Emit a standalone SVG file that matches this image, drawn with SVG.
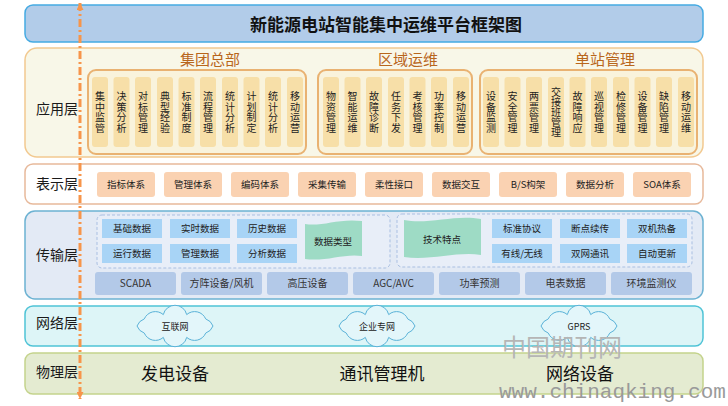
<svg xmlns="http://www.w3.org/2000/svg" width="728" height="406" viewBox="0 0 728 406">
<style>
text{font-family:"Noto Sans CJK SC","Liberation Sans",sans-serif;}
.lay{font-size:14px;text-anchor:middle;fill:#1a1a1a;}
.hd{font-size:15px;text-anchor:middle;fill:#b8661c;}
.grp{fill:#f9f3dc;stroke:#e9b272;stroke-width:2;}
.item{fill:#f7dfa8;}
.it{font-size:10px;text-anchor:middle;fill:#222;}
.pbox{fill:#fad2b2;}
.pt{font-size:9.5px;text-anchor:middle;fill:#222;}
.dgrp{fill:#e8eef8;stroke:#a9bfe2;stroke-width:1;stroke-dasharray:3 2;}
.dbox{fill:#a8d4f6;}
.dt{font-size:9.5px;text-anchor:middle;fill:#222;}
.ban{fill:#9edbc5;}
.bbox{fill:#b3c9e8;}
.bt{font-size:10px;text-anchor:middle;fill:#333;}
.cloud{fill:#e3f6fa;stroke:#5ab2d8;stroke-width:1;}
.ct{font-size:9px;text-anchor:middle;fill:#222;}
.phy{font-size:17px;text-anchor:middle;fill:#111;}
</style>
<defs>
<marker id="arr" viewBox="0 0 10 10" refX="10" refY="5" markerWidth="7" markerHeight="7" markerUnits="userSpaceOnUse" orient="auto-start-reverse">
<path d="M0,0 L10,5 L0,10 z" fill="#f7954b"/>
</marker>
<path id="cloudshape" d="M78,14 A12,12 0 0 1 70.7,21.1 A12,12 0 0 1 51.7,25.4 A12,12 0 0 1 28.3,25.4 A12,12 0 0 1 9.3,21.1 A12,12 0 0 1 2,14 A12,12 0 0 1 9.3,6.9 A12,12 0 0 1 28.3,2.6 A12,12 0 0 1 51.7,2.6 A12,12 0 0 1 70.7,6.9 A12,12 0 0 1 78,14 Z"/>
</defs>

<g id="title">
<rect x="25" y="5" width="678" height="37" rx="8" fill="#b2cce9" stroke="#45aae2" stroke-width="1.5"/>
<text x="386" y="30.5" font-size="17" font-weight="bold" text-anchor="middle" fill="#111">新能源电站智能集中运维平台框架图</text>
</g>

<g id="layer-app">
<rect x="25" y="48" width="678" height="109" rx="12" fill="#f8f7e8" stroke="#f2c990" stroke-width="1.5"/>
<text class="lay" x="57" y="114.3">应用层</text>
<g id="group-hq">
<text class="hd" x="210" y="64.7">集团总部</text>
<rect class="grp" x="88" y="70" width="218" height="84" rx="8"/>
<rect class="item" x="92" y="77" width="16" height="70" rx="3"/>
<rect class="item" x="113.5" y="77" width="16" height="70" rx="3"/>
<rect class="item" x="135" y="77" width="16" height="70" rx="3"/>
<rect class="item" x="157" y="77" width="16" height="70" rx="3"/>
<rect class="item" x="178.5" y="77" width="16" height="70" rx="3"/>
<rect class="item" x="200" y="77" width="16" height="70" rx="3"/>
<rect class="item" x="222" y="77" width="16" height="70" rx="3"/>
<rect class="item" x="243.5" y="77" width="16" height="70" rx="3"/>
<rect class="item" x="265" y="77" width="16" height="70" rx="3"/>
<rect class="item" x="287" y="77" width="16" height="70" rx="3"/>
<text class="it" x="100 100 100 100" y="100 110.5 121 131.5">集中监管</text>
<text class="it" x="121.5 121.5 121.5 121.5" y="100 110.5 121 131.5">决策分析</text>
<text class="it" x="143 143 143 143" y="100 110.5 121 131.5">对标管理</text>
<text class="it" x="165 165 165 165" y="100 110.5 121 131.5">典型经验</text>
<text class="it" x="186.5 186.5 186.5 186.5" y="100 110.5 121 131.5">标准制度</text>
<text class="it" x="208 208 208 208" y="100 110.5 121 131.5">流程管理</text>
<text class="it" x="230 230 230 230" y="100 110.5 121 131.5">统计分析</text>
<text class="it" x="251.5 251.5 251.5 251.5" y="100 110.5 121 131.5">计划制定</text>
<text class="it" x="273 273 273 273" y="100 110.5 121 131.5">统计分析</text>
<text class="it" x="295 295 295 295" y="100 110.5 121 131.5">移动运营</text>
</g>
<g id="group-region">
<text class="hd" x="408" y="64.7">区域运维</text>
<rect class="grp" x="318" y="70" width="154" height="84" rx="8"/>
<rect class="item" x="323" y="77" width="16" height="70" rx="3"/>
<rect class="item" x="344.5" y="77" width="16" height="70" rx="3"/>
<rect class="item" x="366" y="77" width="16" height="70" rx="3"/>
<rect class="item" x="388" y="77" width="16" height="70" rx="3"/>
<rect class="item" x="409.5" y="77" width="16" height="70" rx="3"/>
<rect class="item" x="431" y="77" width="16" height="70" rx="3"/>
<rect class="item" x="453" y="77" width="16" height="70" rx="3"/>
<text class="it" x="331 331 331 331" y="100 110.5 121 131.5">物资管理</text>
<text class="it" x="352.5 352.5 352.5 352.5" y="100 110.5 121 131.5">智能运维</text>
<text class="it" x="374 374 374 374" y="100 110.5 121 131.5">故障诊断</text>
<text class="it" x="396 396 396 396" y="100 110.5 121 131.5">任务下发</text>
<text class="it" x="417.5 417.5 417.5 417.5" y="100 110.5 121 131.5">考核管理</text>
<text class="it" x="439 439 439 439" y="100 110.5 121 131.5">功率控制</text>
<text class="it" x="461 461 461 461" y="100 110.5 121 131.5">移动运营</text>
</g>
<g id="group-station">
<text class="hd" x="605" y="64.7">单站管理</text>
<rect class="grp" x="480" y="70" width="217" height="84" rx="8"/>
<rect class="item" x="483" y="77" width="16" height="70" rx="3"/>
<rect class="item" x="504.5" y="77" width="16" height="70" rx="3"/>
<rect class="item" x="526" y="77" width="16" height="70" rx="3"/>
<rect class="item" x="548" y="77" width="16" height="70" rx="3"/>
<rect class="item" x="569.5" y="77" width="16" height="70" rx="3"/>
<rect class="item" x="591" y="77" width="16" height="70" rx="3"/>
<rect class="item" x="613" y="77" width="16" height="70" rx="3"/>
<rect class="item" x="634.5" y="77" width="16" height="70" rx="3"/>
<rect class="item" x="656" y="77" width="16" height="70" rx="3"/>
<rect class="item" x="678" y="77" width="16" height="70" rx="3"/>
<text class="it" x="491 491 491 491" y="100 110.5 121 131.5">设备监测</text>
<text class="it" x="512.5 512.5 512.5 512.5" y="100 110.5 121 131.5">安全管理</text>
<text class="it" x="534 534 534 534" y="100 110.5 121 131.5">两票管理</text>
<text class="it" x="556 556 556 556 556" y="96 106 116 126 136">交接班管理</text>
<text class="it" x="577.5 577.5 577.5 577.5" y="100 110.5 121 131.5">故障响应</text>
<text class="it" x="599 599 599 599" y="100 110.5 121 131.5">巡视管理</text>
<text class="it" x="621 621 621 621" y="100 110.5 121 131.5">检修管理</text>
<text class="it" x="642.5 642.5 642.5 642.5" y="100 110.5 121 131.5">设备管理</text>
<text class="it" x="664 664 664 664" y="100 110.5 121 131.5">缺陷管理</text>
<text class="it" x="686 686 686 686" y="100 110.5 121 131.5">移动运维</text>
</g>
</g>

<g id="layer-present">
<rect x="25" y="164" width="678" height="40" rx="8" fill="#ffffff" stroke="#e7b99b" stroke-width="1.5"/>
<text class="lay" x="57" y="189.3">表示层</text>
<rect class="pbox" x="97" y="172" width="58" height="25" rx="3"/>
<rect class="pbox" x="164" y="172" width="58" height="25" rx="3"/>
<rect class="pbox" x="231" y="172" width="58" height="25" rx="3"/>
<rect class="pbox" x="298" y="172" width="58" height="25" rx="3"/>
<rect class="pbox" x="365" y="172" width="58" height="25" rx="3"/>
<rect class="pbox" x="432" y="172" width="58" height="25" rx="3"/>
<rect class="pbox" x="499" y="172" width="58" height="25" rx="3"/>
<rect class="pbox" x="566" y="172" width="58" height="25" rx="3"/>
<rect class="pbox" x="633" y="172" width="58" height="25" rx="3"/>
<text class="pt" x="126" y="188">指标体系</text>
<text class="pt" x="193" y="188">管理体系</text>
<text class="pt" x="260" y="188">编码体系</text>
<text class="pt" x="327" y="188">采集传输</text>
<text class="pt" x="394" y="188">柔性接口</text>
<text class="pt" x="461" y="188">数据交互</text>
<text class="pt" x="528" y="188">B/S构架</text>
<text class="pt" x="595" y="188">数据分析</text>
<text class="pt" x="662" y="188">SOA体系</text>
</g>

<g id="layer-transport">
<rect x="25" y="211" width="678" height="88" rx="10" fill="#e3eaf5" stroke="#6cb2d2" stroke-width="1.5"/>
<text class="lay" x="57" y="260.3">传输层</text>
<g id="group-datatype">
<rect class="dgrp" x="97" y="215" width="293" height="53" rx="5"/>
<rect class="dbox" x="102" y="219" width="60" height="19"/>
<rect class="dbox" x="170" y="219" width="60" height="19"/>
<rect class="dbox" x="237" y="219" width="60" height="19"/>
<rect class="dbox" x="102" y="244" width="60" height="19"/>
<rect class="dbox" x="170" y="244" width="60" height="19"/>
<rect class="dbox" x="237" y="244" width="60" height="19"/>
<text class="dt" x="132" y="232">基础数据</text>
<text class="dt" x="200" y="232">实时数据</text>
<text class="dt" x="267" y="232">历史数据</text>
<text class="dt" x="132" y="257">运行数据</text>
<text class="dt" x="200" y="257">管理数据</text>
<text class="dt" x="267" y="257">分析数据</text>
<path class="ban" d="M305,224 C322,227 338,218 362,221 L362,256 C345,253 325,262 305,259 Z"/>
<text class="dt" x="333" y="244.5">数据类型</text>
</g>
<g id="group-tech">
<rect class="dgrp" x="397" y="214" width="295" height="53" rx="5"/>
<path class="ban" d="M404,220 C428,225 455,214 481,219 L481,255 C458,251 430,261 404,257 Z"/>
<text class="dt" x="442" y="242.5">技术特点</text>
<rect class="dbox" x="492" y="219" width="60" height="19"/>
<rect class="dbox" x="560" y="219" width="60" height="19"/>
<rect class="dbox" x="627" y="219" width="60" height="19"/>
<rect class="dbox" x="492" y="244" width="60" height="19"/>
<rect class="dbox" x="560" y="244" width="60" height="19"/>
<rect class="dbox" x="627" y="244" width="60" height="19"/>
<text class="dt" x="522" y="232">标准协议</text>
<text class="dt" x="590" y="232">断点续传</text>
<text class="dt" x="657" y="232">双机热备</text>
<text class="dt" x="522" y="257">有线/无线</text>
<text class="dt" x="590" y="257">双网通讯</text>
<text class="dt" x="657" y="257">自动更新</text>
</g>
<g id="group-sources">
<rect class="bbox" x="95" y="272" width="81" height="23" rx="3"/>
<rect class="bbox" x="181" y="272" width="81" height="23" rx="3"/>
<rect class="bbox" x="267" y="272" width="81" height="23" rx="3"/>
<rect class="bbox" x="353" y="272" width="81" height="23" rx="3"/>
<rect class="bbox" x="439" y="272" width="81" height="23" rx="3"/>
<rect class="bbox" x="525" y="272" width="81" height="23" rx="3"/>
<rect class="bbox" x="611" y="272" width="81" height="23" rx="3"/>
<text class="bt" x="135.5" y="287">SCADA</text>
<text class="bt" x="221.5" y="287">方阵设备/风机</text>
<text class="bt" x="307.5" y="287">高压设备</text>
<text class="bt" x="393.5" y="287">AGC/AVC</text>
<text class="bt" x="479.5" y="287">功率预测</text>
<text class="bt" x="565.5" y="287">电表数据</text>
<text class="bt" x="651.5" y="287">环境监测仪</text>
</g>
</g>

<g id="layer-network">
<rect x="25" y="306" width="678" height="40" rx="8" fill="#ddf5f7" stroke="#4fc3d6" stroke-width="1.5"/>
<text class="lay" x="57" y="328.3">网络层</text>
<use href="#cloudshape" class="cloud" transform="translate(135,312)"/>
<use href="#cloudshape" class="cloud" transform="translate(337,312)"/>
<use href="#cloudshape" class="cloud" transform="translate(539,312)"/>
<text class="ct" x="175" y="329.5">互联网</text>
<text class="ct" x="377" y="329.5">企业专网</text>
<text class="ct" x="579" y="329.5">GPRS</text>
</g>

<g id="layer-physical">
<rect x="25" y="353" width="678" height="41" rx="8" fill="#e4ebd1" stroke="#c4d38c" stroke-width="1.5"/>
<text class="lay" x="57" y="377.3">物理层</text>
<text class="phy" x="175" y="379.5">发电设备</text>
<text class="phy" x="382" y="379.5">通讯管理机</text>
<text class="phy" x="580" y="379.5">网络设备</text>
</g>

<g id="connectors">
<line x1="80" y1="3" x2="80" y2="399" stroke="#f7954b" stroke-width="3" stroke-dasharray="8 3 2 3" marker-start="url(#arr)" marker-end="url(#arr)"/>
</g>

<g id="watermark">
<text x="562" y="356" font-size="24" text-anchor="middle" fill="#b5b5b5" font-family="Noto Sans CJK SC, sans-serif">中国期刊网</text>
<text x="499" y="398" font-size="21" fill="#9a9a9a" style="font-family:'Liberation Mono',monospace">www.chinaqking.com</text>
</g>
</svg>
